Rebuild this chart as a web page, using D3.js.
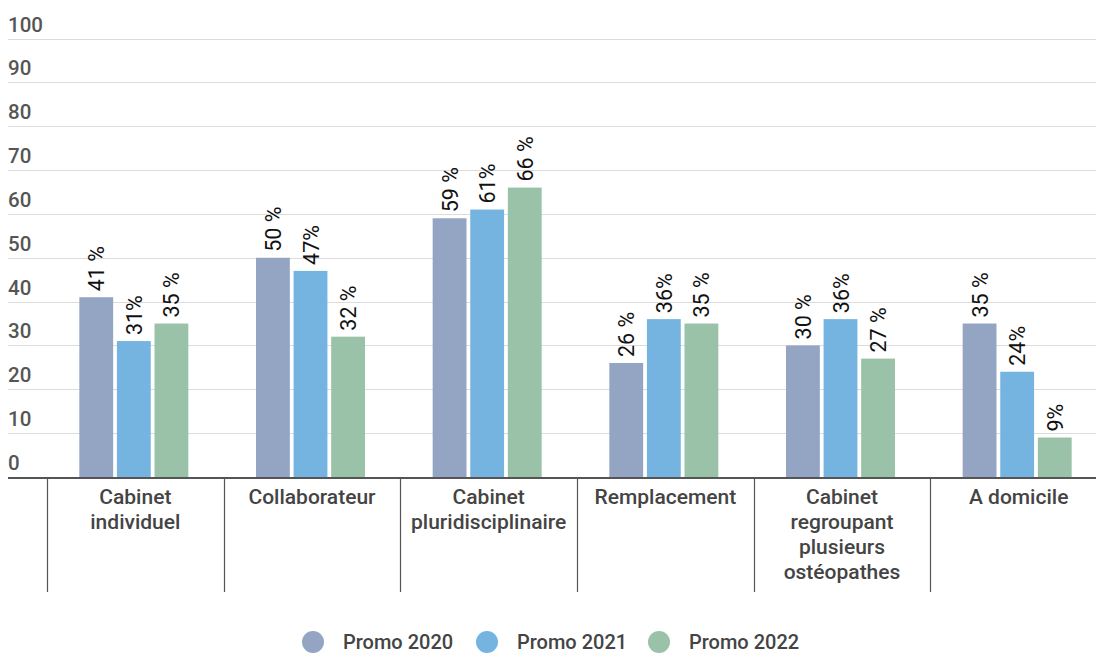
<!DOCTYPE html>
<html>
<head>
<meta charset="utf-8">
<script src="https://cdn.jsdelivr.net/npm/d3@7"></script>
<style>
  body { margin: 0; background: #fff; }
  svg { font-family: Roboto, "Noto Sans", sans-serif; }
</style>
</head>
<body>
<div id="chart"></div>
<script>
// data
var categories = [
  ["Cabinet", "individuel"],
  ["Collaborateur"],
  ["Cabinet", "pluridisciplinaire"],
  ["Remplacement"],
  ["Cabinet", "regroupant", "plusieurs", "ostéopathes"],
  ["A domicile"]
];
var seriesNames = ["Promo 2020", "Promo 2021", "Promo 2022"];
var promo2020 = [41, 50, 59, 26, 30, 35];
var promo2021 = [31, 47, 61, 36, 36, 24];
var promo2022 = [35, 32, 66, 35, 27, 9];
var labels2020 = ["41 %", "50 %", "59 %", "26 %", "30 %", "35 %"];
var labels2021 = ["31%", "47%", "61%", "36%", "36%", "24%"];
var labels2022 = ["35 %", "32 %", "66 %", "35 %", "27 %", "9%"];
var yTicks = [0, 10, 20, 30, 40, 50, 60, 70, 80, 90, 100];

var colors = ["#93a5c3", "#75b4e0", "#99c2a8"];

var width = 1096, height = 653;

var svg = d3.select("#chart")
    .append("svg")
    .attr("width", width)
    .attr("height", height);

// scales
var x = d3.scaleBand()
    .domain(d3.range(categories.length))
    .range([47, 1107]);

var xSub = d3.scaleBand()
    .domain(d3.range(seriesNames.length))
    .range([0, 109])
    .paddingInner(0.1);

var y = d3.scaleLinear()
    .domain([0, 100])
    .range([477, 38.5]);

// gridlines + tick labels
var grid = svg.append("g");
grid.selectAll("line")
    .data(yTicks.filter(function (d) { return d > 0; }))
    .enter().append("line")
    .attr("x1", 8)
    .attr("x2", width)
    .attr("y1", function (d) { return Math.round(y(d)) + 0.5; })
    .attr("y2", function (d) { return Math.round(y(d)) + 0.5; })
    .attr("stroke", "#dcdcdc")
    .attr("stroke-width", 1);

grid.selectAll("text")
    .data(yTicks)
    .enter().append("text")
    .attr("x", 8)
    .attr("y", function (d) { return y(d) - 7; })
    .attr("fill", "#555")
    .style("font-size", "20.5px")
    .style("font-weight", 500)
    .text(function (d) { return d; });

// bars
var series = [promo2020, promo2021, promo2022];
var seriesLabels = [labels2020, labels2021, labels2022];

var groups = svg.selectAll(".group")
    .data(categories)
    .enter().append("g")
    .attr("class", "group")
    .attr("transform", function (d, i) {
        return "translate(" + (x(i) + x.bandwidth() / 2 - 56) + ",0)";
    });

groups.each(function (c, i) {
    var g = d3.select(this);
    series.forEach(function (s, j) {
        g.append("rect")
            .attr("x", xSub(j))
            .attr("width", xSub.bandwidth())
            .attr("y", y(s[i]))
            .attr("height", y(0) - y(s[i]))
            .attr("fill", colors[j]);
        g.append("text")
            .attr("transform", "translate(" + (xSub(j) + xSub.bandwidth() / 2 + 8) + "," + (y(s[i]) - 6) + ") rotate(-90)")
            .attr("fill", "#111")
            .style("font-size", "21.5px")
            .text(seriesLabels[j][i]);
    });
});

// baseline axis
svg.append("line")
    .attr("x1", 8)
    .attr("x2", width)
    .attr("y1", y(0) + 1)
    .attr("y2", y(0) + 1)
    .attr("stroke", "#555")
    .attr("stroke-width", 2);

// category separators
svg.selectAll(".sep")
    .data(d3.range(categories.length))
    .enter().append("line")
    .attr("class", "sep")
    .attr("x1", function (i) { return Math.round(x(i)) + 0.5; })
    .attr("x2", function (i) { return Math.round(x(i)) + 0.5; })
    .attr("y1", y(0) + 1)
    .attr("y2", 592)
    .attr("stroke", "#555")
    .attr("stroke-width", 1.2);

// category labels
var catLabels = svg.selectAll(".cat")
    .data(categories)
    .enter().append("text")
    .attr("class", "cat")
    .attr("text-anchor", "middle")
    .attr("fill", "#444")
    .style("font-size", "21px")
    .style("font-weight", 500);

catLabels.each(function (lines, i) {
    var t = d3.select(this);
    lines.forEach(function (line, k) {
        t.append("tspan")
            .attr("x", x(i) + x.bandwidth() / 2)
            .attr("y", 504 + k * 25)
            .text(line);
    });
});

// legend
var legendX = [313, 487, 659];
var legend = svg.selectAll(".legend")
    .data(seriesNames)
    .enter().append("g")
    .attr("class", "legend")
    .attr("transform", function (d, i) { return "translate(" + legendX[i] + ",642)"; });

legend.append("circle")
    .attr("r", 11)
    .attr("fill", function (d, i) { return colors[i]; });

legend.append("text")
    .attr("x", 30)
    .attr("y", 7)
    .attr("fill", "#444")
    .style("font-size", "20px")
    .style("font-weight", 500)
    .text(function (d) { return d; });
</script>
</body>
</html>
